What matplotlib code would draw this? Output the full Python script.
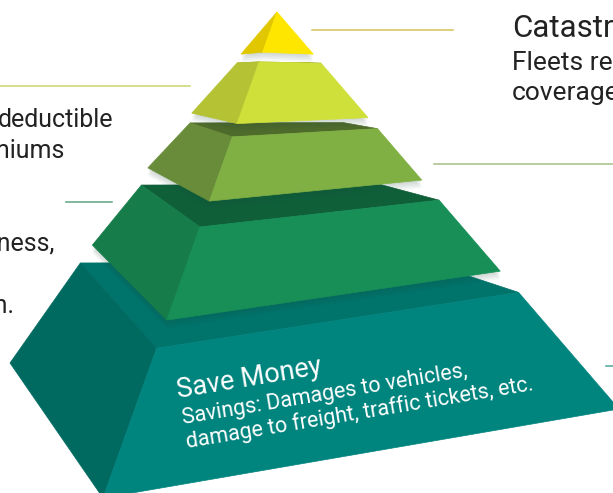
import matplotlib.pyplot as plt
from matplotlib.patches import Polygon

plt.rcParams['font.family'] = ['Roboto', 'DejaVu Sans']

# Tiers from the base (bottom) to the tip, colours as (front, left side, top)
tier_colors = [
    ('#00847e', '#006a61', '#00736b'),
    ('#178f57', '#167c4a', '#0f5f39'),
    ('#80b043', '#688c39', '#4e6b2c'),
    ('#cfe03a', '#b4c234', '#9aa82c'),
    ('#ffe600', '#e0c700', '#c9b200'),
]
base_title = 'Save Money'
base_lines = ['Savings: Damages to vehicles,',
              'damage to freight, traffic tickets, etc.']

left_texts = ['deductible', 'premiums', 'business,', 'plan.']
right_title = 'Catastrophe'
right_texts = ['Fleets receive', 'coverage']

# Pyramid geometry in pixel space (perspective view)
apex = (277, 12)
base = {'L': (2, 363), 'F': (103, 498), 'R': (619, 409), 'B': (487, 362)}
bend = {'L': 0.0, 'F': 0.4, 'R': 0.15, 'B': 0.0}
tier_bounds = [(0.0, 0.285), (0.336, 0.507), (0.556, 0.684), (0.712, 0.855), (0.88, 1.0)]
left_flare = [8, -2, -7, -6, -3]   # small outward kick of each tier's lower left corner


def corner(name, h, dx=0.0):
    t = h + bend[name] * h * h * (1 - h)
    x0, y0 = base[name]
    return (x0 + (apex[0] - x0) * t + dx, y0 + (apex[1] - y0) * t)


fig = plt.figure(figsize=(6.13, 4.93), dpi=100)
ax = fig.add_axes([0, 0, 1, 1])
ax.set_xlim(0, 613)
ax.set_ylim(493, 0)
ax.axis('off')

for i, ((hb, ht), (c_front, c_left, c_top)) in enumerate(zip(tier_bounds, tier_colors)):
    Lb, Fb, Rb = corner('L', hb, left_flare[i]), corner('F', hb), corner('R', hb)
    Lt, Ft, Rt, Bt = corner('L', ht), corner('F', ht), corner('R', ht), corner('B', ht)
    # soft shadow cast below the tier
    if i > 0:
        for k in range(1, 6):
            shade = [(x, y + 1.6 * k) for x, y in [Lt, Lb, Fb, Rb, Rt]]
            ax.add_patch(Polygon(shade, closed=True, fc='#1e4a3a', ec='none', alpha=0.045))
    if ht < 1.0:
        ax.add_patch(Polygon([Lt, Ft, Rt, Bt], closed=True, fc=c_top, ec=c_top, lw=0.5))
    ax.add_patch(Polygon([Lb, Fb, Ft, Lt], closed=True, fc=c_left, ec=c_left, lw=0.5))
    ax.add_patch(Polygon([Fb, Rb, Rt, Ft], closed=True, fc=c_front, ec=c_front, lw=0.5))

# connector lines
ax.plot([312, 453], [30, 30], color='#d3c35a', lw=1.1)
ax.plot([0, 190], [86, 86], color='#c9d66e', lw=1.1)
ax.plot([434, 613], [164, 164], color='#a7be88', lw=1.1)
ax.plot([66, 112], [202, 202], color='#5ea382', lw=1.1)
ax.plot([606, 613], [366, 366], color='#4fa39c', lw=1.1)

# text on the base tier
ax.text(178, 398, base_title, color='white', fontsize=19.5, rotation=9.5,
        rotation_mode='anchor', ha='left', va='baseline')
for i, line in enumerate(base_lines):
    ax.text(183 + 4 * i, 424 + 24 * i, line, color='white', fontsize=15.5, rotation=9.5,
            rotation_mode='anchor', ha='left', va='baseline')

# side texts (cut by the figure edges)
for x, y, s in zip([113, 65, 55, 14], [127, 158, 250, 313], left_texts):
    ax.text(x, y, s, color='#222222', fontsize=18, ha='right', va='baseline')
ax.text(512, 37, right_title, color='#222222', fontsize=22.5, ha='left', va='baseline')
for y, s in zip([70, 100], right_texts):
    ax.text(512, y, s, color='#222222', fontsize=19, ha='left', va='baseline')

fig.savefig('out.png', dpi=100)
